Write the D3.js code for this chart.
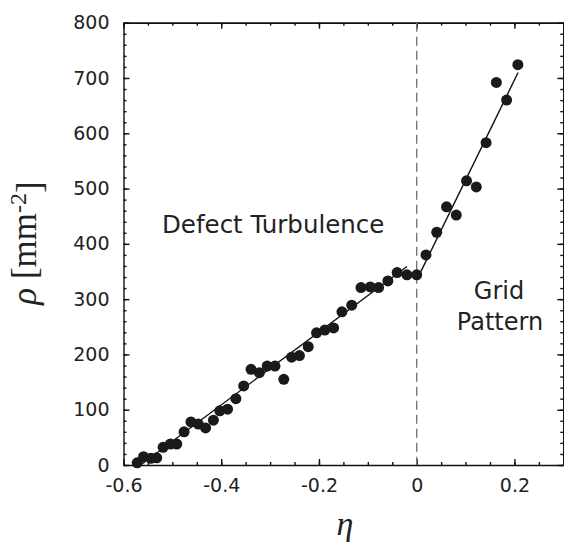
<!DOCTYPE html>
<html>
<head>
<meta charset="utf-8">
<script src="https://cdnjs.cloudflare.com/ajax/libs/d3/7.8.5/d3.min.js"></script>
<style>
    body { margin: 0; background: #fff; }
    .tickLabels text { font-family: "DejaVu Sans", Verdana, sans-serif; font-size: 19px; fill: #222; }
    .axisLine path, .axisLine line { stroke: #111; stroke-width: 1.4px; }
    .regionLabel { font-family: "DejaVu Sans", Verdana, sans-serif; font-size: 24px; fill: #222; }
    .axisTitle { font-family: "Liberation Serif", "Times New Roman", serif; fill: #222; }
</style>
</head>
<body>
<svg id="chart" width="564" height="543"></svg>
<script>
// measured points, eta vs rho
var etaValues = [-0.572, -0.559, -0.544, -0.532, -0.519, -0.504, -0.491, -0.476, -0.462, -0.447,
    -0.432, -0.416, -0.403, -0.387, -0.370, -0.354, -0.339, -0.322, -0.306, -0.290,
    -0.272, -0.256, -0.240, -0.222, -0.205, -0.188, -0.170, -0.153, -0.133, -0.114,
    -0.095, -0.078, -0.059, -0.040, -0.020, 0.000, 0.019, 0.041, 0.061, 0.081,
    0.102, 0.122, 0.142, 0.163, 0.184, 0.207];
var rhoValues = [4, 15, 12, 13, 32, 38, 38, 60, 78, 74,
    67, 81, 98, 101, 120, 143, 173, 167, 179, 179,
    155, 195, 198, 214, 239, 244, 248, 277, 289, 321,
    322, 321, 333, 348, 344, 344, 380, 421, 467, 452,
    514, 503, 583, 692, 660, 724];

// linear fits for the two regimes
var defectFitEta = [-0.565, -0.02];
var defectFitRho = [0, 359];
var gridFitEta = [0.002, 0.2075];
var gridFitRho = [338, 710];

var xTickValues = [-0.6, -0.4, -0.2, 0, 0.2];
var yTickValues = [0, 100, 200, 300, 400, 500, 600, 700, 800];

(function(d3) {

    var frame = { left: 123.5, right: 563.3, top: 22.7, bottom: 465 };

    var svg = d3.select("#chart");

    var x = d3.scaleLinear().domain([-0.6, 0.3]).range([frame.left, frame.right]);
    var y = d3.scaleLinear().domain([0, 800]).range([frame.bottom, frame.top]);

    var xMinor = d3.range(-0.6, 0.301, 0.05);
    var yMinor = d3.range(0, 801, 20);

    // minor ticks first, majors + labels on top
    svg.append("g").attr("class", "axisLine")
        .attr("transform", "translate(0," + frame.bottom + ")")
        .call(d3.axisBottom(x).tickValues(xMinor).tickSizeInner(-3).tickSizeOuter(0).tickFormat(""));
    svg.append("g").attr("class", "axisLine")
        .attr("transform", "translate(0," + frame.top + ")")
        .call(d3.axisTop(x).tickValues(xMinor).tickSizeInner(-3).tickSizeOuter(0).tickFormat(""));
    svg.append("g").attr("class", "axisLine")
        .attr("transform", "translate(" + frame.left + ",0)")
        .call(d3.axisLeft(y).tickValues(yMinor).tickSizeInner(-3).tickSizeOuter(0).tickFormat(""));
    svg.append("g").attr("class", "axisLine")
        .attr("transform", "translate(" + frame.right + ",0)")
        .call(d3.axisRight(y).tickValues(yMinor).tickSizeInner(-3).tickSizeOuter(0).tickFormat(""));

    svg.append("g").attr("class", "axisLine tickLabels")
        .attr("transform", "translate(0," + frame.bottom + ")")
        .call(d3.axisBottom(x).tickValues(xTickValues).tickSizeInner(-6).tickSizeOuter(0)
            .tickPadding(14).tickFormat(function(d) { return String(d); }));
    svg.append("g").attr("class", "axisLine")
        .attr("transform", "translate(0," + frame.top + ")")
        .call(d3.axisTop(x).tickValues(xTickValues).tickSizeInner(-6).tickSizeOuter(0).tickFormat(""));
    svg.append("g").attr("class", "axisLine tickLabels")
        .attr("transform", "translate(" + frame.left + ",0)")
        .call(d3.axisLeft(y).tickValues(yTickValues).tickSizeInner(-6).tickSizeOuter(0)
            .tickPadding(14).tickFormat(function(d) { return String(d); }));
    svg.append("g").attr("class", "axisLine")
        .attr("transform", "translate(" + frame.right + ",0)")
        .call(d3.axisRight(y).tickValues(yTickValues).tickSizeInner(-6).tickSizeOuter(0).tickFormat(""));

    svg.selectAll(".tickLabels .domain").remove();

    // eta = 0 divider
    svg.append("line")
        .attr("x1", x(0)).attr("x2", x(0))
        .attr("y1", y(800)).attr("y2", y(0))
        .attr("stroke", "#777")
        .attr("stroke-width", 1.4)
        .attr("stroke-dasharray", "9,5");

    var fitLine = d3.line()
        .x(function(d) { return x(d[0]); })
        .y(function(d) { return y(d[1]); });

    svg.append("path")
        .datum(d3.zip(defectFitEta, defectFitRho))
        .attr("d", fitLine)
        .attr("fill", "none")
        .attr("stroke", "#111")
        .attr("stroke-width", 1.4);

    svg.append("path")
        .datum(d3.zip(gridFitEta, gridFitRho))
        .attr("d", fitLine)
        .attr("fill", "none")
        .attr("stroke", "#111")
        .attr("stroke-width", 1.4);

    svg.append("g").attr("class", "points")
        .selectAll("circle")
        .data(d3.zip(etaValues, rhoValues))
        .enter()
        .append("circle")
        .attr("cx", function(d) { return x(d[0]); })
        .attr("cy", function(d) { return y(d[1]); })
        .attr("r", 5.5)
        .style("fill", "#1a1a1a");

    // region labels
    svg.append("text").attr("class", "regionLabel")
        .attr("x", 162).attr("y", 233)
        .style("font-size", "24.5px")
        .text("Defect Turbulence");
    svg.append("text").attr("class", "regionLabel")
        .attr("x", 499).attr("y", 299).attr("text-anchor", "middle")
        .text("Grid");
    svg.append("text").attr("class", "regionLabel")
        .attr("x", 500).attr("y", 330).attr("text-anchor", "middle")
        .text("Pattern");

    // axis titles
    var yTitle = svg.append("text").attr("class", "axisTitle")
        .attr("transform", "translate(36,243) rotate(-90)")
        .attr("text-anchor", "middle")
        .style("font-size", "35px");
    yTitle.append("tspan").style("font-style", "italic").text("\u03c1");
    yTitle.append("tspan").text(" [mm");
    yTitle.append("tspan").attr("dy", "-0.42em").style("font-size", "24px").text("-2");
    yTitle.append("tspan").attr("dy", "0.42em").text("]");

    svg.append("text").attr("class", "axisTitle")
        .attr("x", 345).attr("y", 535)
        .attr("text-anchor", "middle")
        .style("font-size", "34px")
        .style("font-style", "italic")
        .text("\u03b7");

})(d3);
</script>
</body>
</html>
